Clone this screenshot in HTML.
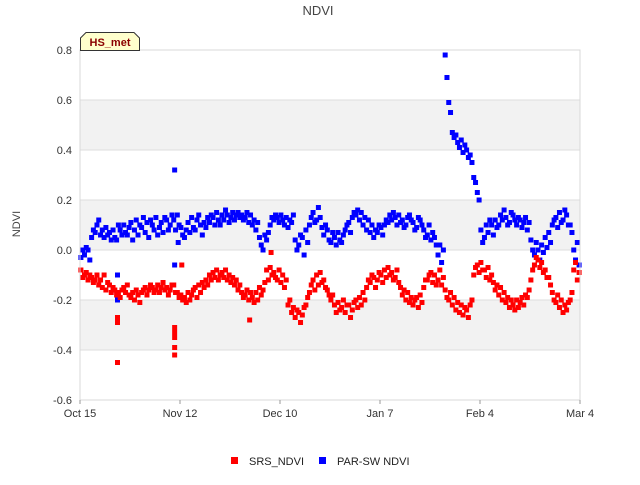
<!DOCTYPE html>
<html><head><meta charset="utf-8"><style>
body{margin:0;background:#fff;font-family:"Liberation Sans",sans-serif;}
svg text{font-family:"Liberation Sans",sans-serif;}
</style></head><body>
<svg id="chart" width="640" height="480">
<rect width="640" height="480" fill="#fff"/>
<text x="318" y="15" text-anchor="middle" font-size="13" fill="#444">NDVI</text>
<text x="16" y="228" text-anchor="middle" font-size="11" fill="#444" transform="rotate(-90 16 224)">NDVI</text>
<g id="grid"></g>
<g id="marks"></g>
<g id="axes"></g>
<g>
<path d="M80.5,50.5 V38 L86,32.5 H134 L139.5,38 V50.5 Z" fill="#ffffcc" stroke="#333"/>
<text x="110" y="46" text-anchor="middle" font-size="11" font-weight="bold" fill="#8b0000">HS_met</text>
</g>
<g>
<g><rect x="231" y="457" width="7" height="7" fill="#ff0000"/><text x="249" y="465" font-size="11" fill="#222">SRS_NDVI</text></g>
<g><rect x="319" y="457" width="7" height="7" fill="#0000ff"/><text x="337" y="465" font-size="11" fill="#222">PAR-SW NDVI</text></g>
</g>
</svg>
<script>
const yTicks=[-0.6,-0.4,-0.2,0.0,0.2,0.4,0.6,0.8];
const xTickDays=[0,28,56,84,112,140];
const xTickLabels=["Oct 15","Nov 12","Dec 10","Jan 7","Feb 4","Mar 4"];
const redDaily=[[-0.08,-0.11],[-0.10,-0.09],[-0.12,-0.10],[-0.11,-0.13],[-0.12,-0.10],
[-0.14,-0.12],[-0.15,-0.10],[-0.16,-0.13],[-0.14,-0.17],[-0.15,-0.16],
[-0.18,-0.17],[-0.19,-0.16],[-0.15,-0.17],[-0.14,-0.18],[-0.19,-0.17],[-0.20,-0.16],[-0.18,-0.21],[-0.17,-0.16],[-0.15,-0.18],[-0.16,-0.14],
[-0.15,-0.17],[-0.16,-0.14],[-0.17,-0.15],[-0.13,-0.16],[-0.15,-0.18],[-0.16,-0.14],
[-0.14,-0.17],[-0.17,-0.19],[-0.18,-0.20],[-0.19,-0.21],[-0.17,-0.20],[-0.18,-0.16],[-0.15,-0.19],[-0.14,-0.17],[-0.13,-0.15],[-0.12,-0.14],
[-0.10,-0.12],[-0.09,-0.11],[-0.08,-0.12],[-0.10,-0.09],[-0.11,-0.08],[-0.12,-0.10],[-0.13,-0.11],[-0.14,-0.12],
[-0.16,-0.14],[-0.17,-0.19],[-0.18,-0.16],[-0.20,-0.17],[-0.19,-0.21],[-0.17,-0.20],[-0.15,-0.18],[-0.16,-0.13],
[-0.08,-0.12],[-0.07,-0.10],[-0.09,-0.11],[-0.12,-0.08],[-0.13,-0.10],[-0.15,-0.12],
[-0.22,-0.20],[-0.25,-0.23],[-0.27,-0.24],[-0.25,-0.29],[-0.26,-0.23],[-0.22,-0.19],
[-0.17,-0.14],[-0.12,-0.16],[-0.10,-0.14],[-0.09,-0.13],[-0.12,-0.15],[-0.16,-0.18],
[-0.20,-0.18],[-0.22,-0.25],[-0.21,-0.24],[-0.23,-0.20],[-0.25,-0.22],[-0.22,-0.27],[-0.24,-0.21],[-0.20,-0.23],[-0.19,-0.22],[-0.17,-0.20],
[-0.15,-0.12],[-0.13,-0.10],[-0.11,-0.15],[-0.12,-0.09],[-0.10,-0.13],
[-0.08,-0.11],[-0.07,-0.10],[-0.09,-0.12],[-0.11,-0.08],[-0.13,-0.15],
[-0.18,-0.16],[-0.20,-0.17],[-0.21,-0.19],[-0.22,-0.20],[-0.19,-0.23],[-0.18,-0.21],
[-0.15,-0.12],[-0.12,-0.10],[-0.09,-0.13],[-0.10,-0.14],[-0.12,-0.08],[-0.14,-0.11],
[-0.16,-0.19],[-0.20,-0.17],[-0.22,-0.19],[-0.24,-0.21],[-0.25,-0.22],[-0.26,-0.23],[-0.24,-0.27],[-0.22,-0.20],
[-0.10,-0.07],[-0.06,-0.09],[-0.05,-0.08],[-0.08,-0.11],[-0.07,-0.12],[-0.10,-0.13],
[-0.16,-0.14],[-0.18,-0.15],[-0.20,-0.17],[-0.21,-0.19],[-0.23,-0.20],[-0.22,-0.24],[-0.20,-0.23],[-0.21,-0.19],[-0.22,-0.18],[-0.19,-0.16],
[-0.12,-0.08],[-0.06,-0.03],[-0.04,-0.07],[-0.05,-0.09],[-0.08,-0.11],[-0.11,-0.14],
[-0.17,-0.20],[-0.21,-0.18],[-0.23,-0.20],[-0.25,-0.22],[-0.24,-0.21],[-0.20,-0.17],
[-0.08,-0.05],[-0.12,-0.09]];
const blueDaily=[[-0.03,0.00],[-0.02,0.01],[0.00,-0.04],
[0.05,0.08],[0.07,0.10],[0.12,0.06],[0.08,0.05],[0.09,0.06],[0.07,0.04],[0.08,0.05],
[0.04,0.10],[0.08,0.06],[0.10,0.07],[0.06,0.09],[0.11,0.04],[0.08,0.12],[0.06,0.10],[0.09,0.13],[0.07,0.11],[0.05,0.12],[0.10,0.08],[0.13,0.06],[0.09,0.11],[0.07,0.13],[0.12,0.08],[0.10,0.14],
[0.12,0.08],[0.14,0.10],[0.09,0.06],[0.05,0.08],[0.11,0.07],[0.13,0.09],[0.08,0.12],[0.14,0.10],[0.06,0.11],[0.09,0.13],
[0.11,0.14],[0.13,0.10],[0.15,0.12],[0.10,0.14],[0.12,0.16],[0.14,0.11],[0.13,0.15],[0.12,0.14],[0.15,0.13],[0.14,0.12],[0.13,0.15],[0.11,0.14],[0.10,0.12],[0.08,0.11],
[0.05,0.02],[0.00,0.06],[0.04,0.07],
[0.10,0.13],[0.12,0.14],[0.13,0.11],[0.14,0.12],[0.10,0.13],[0.09,0.12],[0.11,0.14],
[0.04,0.00],[0.02,0.06],[0.05,-0.02],[0.08,0.03],
[0.10,0.13],[0.15,0.11],[0.12,0.17],[0.13,0.09],[0.06,0.10],[0.08,0.04],
[0.03,0.07],[0.05,0.02],[0.07,0.04],[0.03,0.06],[0.08,0.10],[0.11,0.07],
[0.13,0.15],[0.14,0.16],[0.12,0.15],[0.10,0.13],[0.08,0.12],[0.07,0.10],
[0.05,0.08],[0.07,0.10],[0.09,0.06],[0.10,0.12],
[0.11,0.14],[0.12,0.15],[0.13,0.10],[0.14,0.11],[0.12,0.09],[0.10,0.13],[0.14,0.12],[0.11,0.08],[0.09,0.13],[0.12,0.10],
[0.08,0.05],[0.06,0.10],[0.04,0.07],[0.05,0.02],
[-0.02,0.02],[-0.05,0.00],
[0.78,0.69],[0.59,0.55],
[0.47,0.45],[0.46,0.43],[0.41,0.44],[0.39,0.42],[0.40,0.37],[0.38,0.35],[0.29,0.27],[0.23,0.20],
[0.08,0.03],[0.05,0.10],[0.07,0.12],[0.10,0.06],[0.12,0.09],
[0.10,0.14],[0.12,0.16],[0.13,0.10],[0.11,0.15],[0.14,0.12],[0.10,0.13],[0.12,0.09],[0.11,0.13],[0.08,0.11],
[0.04,0.00],[-0.02,0.03],[0.00,-0.04],[0.02,-0.01],[0.05,0.01],[0.07,0.03],
[0.10,0.12],[0.13,0.09],[0.15,0.11],[0.12,0.16],[0.14,0.10],[0.10,0.07],
[0.00,-0.04],[0.03,-0.06]];
const redOutDays=[10,10,10,26,26,26,26,26,28,47,53];
const redOutVals=[-0.27,-0.29,-0.45,-0.31,-0.33,-0.35,-0.39,-0.42,-0.06,-0.28,-0.01];
const blueOutDays=[10,10,26,26,27];
const blueOutVals=[-0.10,-0.20,0.32,-0.06,0.03];

const L=80,R=580,T=50,B=400,NS="http://www.w3.org/2000/svg";
const xs=d=>L+d*(R-L)/140;
const ys=v=>T+(0.8-v)*(B-T)/1.4;
function mk(tag,attrs,parent){const e=document.createElementNS(NS,tag);for(const k in attrs)e.setAttribute(k,attrs[k]);parent.appendChild(e);return e;}
const grid=document.getElementById('grid'),marks=document.getElementById('marks'),axes=document.getElementById('axes');
for(let i=0;i<yTicks.length-1;i++){
  if(i%2===1){const r=mk('rect',{x:L,y:ys(yTicks[i+1]),width:R-L,height:ys(yTicks[i])-ys(yTicks[i+1]),fill:'#f2f2f2'},grid);
  
  }
}
yTicks.forEach(v=>{
  const l=mk('line',{x1:L,x2:R,y1:ys(v),y2:ys(v),stroke:'#dedede'},grid);
  
  
  const t=mk('text',{x:72,y:ys(v)+4,'text-anchor':'end','font-size':11,fill:'#333'},axes);
  
  
  t.textContent=v.toFixed(1);
});
const frame=mk('rect',{x:L,y:T,width:R-L,height:B-T,fill:'none',stroke:'#d8d8d8'},axes);


xTickDays.forEach((d,i)=>{
  const tk=mk('line',{x1:xs(d),x2:xs(d),y1:B,y2:B+4,stroke:'#999'},axes);
  
  
  const t=mk('text',{x:xs(d),y:B+17,'text-anchor':'middle','font-size':11,fill:'#333'},axes);
  
  
  t.textContent=xTickLabels[i];
});
function pt(d,v,c,name){
  const r=mk('rect',{x:xs(d)-2.5,y:ys(v)-2.5,width:5,height:5,fill:c},marks);
  
  
}
const offs=[0.25,0.75];
blueDaily.forEach((p,d)=>p.forEach((v,j)=>pt(d+offs[j],v,'#0000ff','parsw-point')));
blueOutDays.forEach((d,i)=>pt(d+0.5,blueOutVals[i],'#0000ff','parsw-point'));
redDaily.forEach((p,d)=>p.forEach((v,j)=>pt(d+offs[j],v,'#ff0000','srs-point')));
redOutDays.forEach((d,i)=>pt(d+0.5,redOutVals[i],'#ff0000','srs-point'));
</script>
</body></html>
